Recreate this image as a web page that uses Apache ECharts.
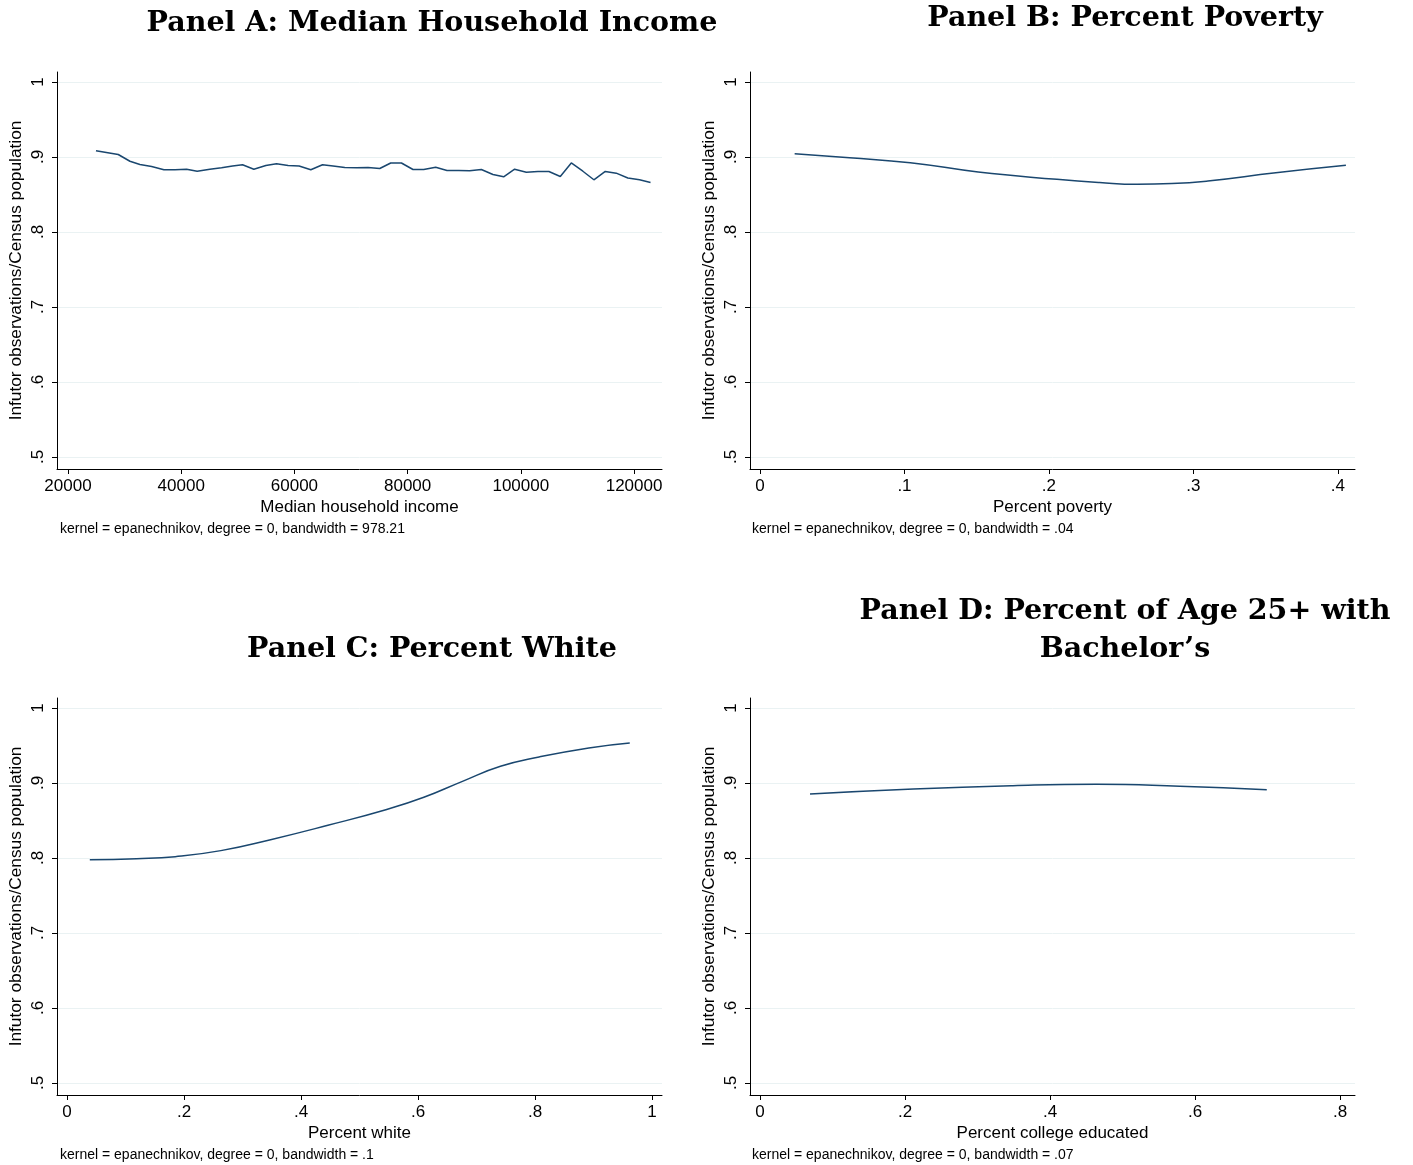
<!DOCTYPE html>
<html><head><meta charset="utf-8">
<script src="https://cdn.jsdelivr.net/npm/echarts@6/dist/echarts.min.js"></script>
<style>html,body{margin:0;padding:0;background:#fff}#c{width:1413px;height:1165px}</style>
</head><body><div id="c"></div>
<script>
// Panel A: median household income (x) vs ratio (y)
const incomeX = [24943,28879,30944,32710,34775,36946,38888,40953,42824,45066,47131,49073,50838,52833,54951,56840,58888,60830,62895,64960,66831,68897,70962,73010,75075,77017,78906,80953,82842,84960,86955,89020,90962,93027,95075,96964,98906,100971,103019,104960,106973,108914,110962,112904,114916,116858,118906,120971,122913];
const incomeY = [0.9084,0.9033,0.8943,0.8900,0.8873,0.8830,0.8830,0.8837,0.8810,0.8837,0.8856,0.8880,0.8897,0.8837,0.8887,0.8910,0.8887,0.8880,0.8830,0.8897,0.8880,0.8860,0.8856,0.8860,0.8847,0.8920,0.8920,0.8833,0.8833,0.8864,0.8820,0.8820,0.8816,0.8833,0.8767,0.8736,0.8837,0.8797,0.8807,0.8807,0.8740,0.8920,0.8810,0.8696,0.8807,0.8784,0.8720,0.8696,0.8660];
// Panel B: percent poverty
const povertyX = [0.024,0.062,0.104,0.151,0.2055,0.235,0.261,0.285,0.310,0.357,0.4055];
const povertyY = [0.9044,0.8990,0.8924,0.8800,0.8702,0.8660,0.8636,0.8645,0.8680,0.8790,0.8889];
// Panel C: percent white
const whiteX = [0.039,0.119,0.185,0.263,0.348,0.446,0.545,0.610,0.676,0.741,0.807,0.892,0.962];
const whiteY = [0.7978,0.7991,0.8018,0.8098,0.8244,0.8436,0.8644,0.8809,0.9022,0.9222,0.9347,0.9467,0.9533];
// Panel D: percent college educated
const collegeX = [0.069,0.2115,0.349,0.464,0.579,0.699];
const collegeY = [0.8853,0.8920,0.8964,0.8982,0.8956,0.8910];

const yTicks = [0.5,0.6,0.7,0.8,0.9,1];
const xTicksA = [20000,40000,60000,80000,100000,120000];
const xTicksB = [0,0.1,0.2,0.3,0.4];
const xTicksC = [0,0.2,0.4,0.6,0.8,1];
const xTicksD = [0,0.2,0.4,0.6,0.8];

const titles = ['Panel A: Median Household Income','Panel B: Percent Poverty','Panel C: Percent White','Panel D: Percent of Age 25+ with\nBachelor\u2019s'];
const xNames = ['Median household income','Percent poverty','Percent white','Percent college educated'];
const yName = 'Infutor observations/Census population';
const notes = ['kernel = epanechnikov, degree = 0, bandwidth = 978.21','kernel = epanechnikov, degree = 0, bandwidth = .04','kernel = epanechnikov, degree = 0, bandwidth = .1','kernel = epanechnikov, degree = 0, bandwidth = .07'];

const fmt = v => { if (v === 0) return '0'; if (Math.abs(v) < 1) return String(+v.toFixed(4)).replace(/^0/,''); return String(v); };
const SANS = 'Liberation Sans, Arial, sans-serif';
const SERIF = 'DejaVu Serif, serif';
const LINE = '#1a476f';
const GRIDC = '#eaf2f3';

const grids = [
  {left:57, top:72, width:605, height:397},
  {left:750, top:72, width:605, height:397},
  {left:57, top:698, width:605, height:397},
  {left:750, top:698, width:605, height:397}
];
const xRanges = [[18058,124940],[-0.0069,0.4118],[-0.0171,1.0171],[-0.0138,0.8207]];
const xTicks = [xTicksA,xTicksB,xTicksC,xTicksD];
const yMin = 0.484, yMax = 1.0133;
const smoothing = [false, 0.5, 0.5, 0.5];

const xAxis = [], yAxis = [], series = [];
const dataX = [incomeX,povertyX,whiteX,collegeX];
const dataY = [incomeY,povertyY,whiteY,collegeY];
for (let i=0;i<4;i++){
  xAxis.push({type:'value', gridIndex:i, min:xRanges[i][0], max:xRanges[i][1],
    name:xNames[i], nameLocation:'middle', nameGap:30,
    nameTextStyle:{fontFamily:SANS,fontSize:17,color:'#000'},
    axisLine:{show:true,onZero:false,lineStyle:{color:'#000',width:1}},
    axisTick:{show:true,length:5,lineStyle:{color:'#000'},customValues:xTicks[i]},
    axisLabel:{fontFamily:SANS,fontSize:17,color:'#000',margin:9,formatter:fmt,customValues:xTicks[i],showMinLabel:true,showMaxLabel:true},
    splitLine:{show:false}});
  yAxis.push({type:'value', gridIndex:i, min:yMin, max:yMax,
    name:yName, nameLocation:'middle', nameGap:32, nameRotate:90,
    nameTextStyle:{fontFamily:SANS,fontSize:17.3,color:'#000'},
    axisLine:{show:true,onZero:false,lineStyle:{color:'#000',width:1}},
    axisTick:{show:true,length:5,lineStyle:{color:'#000'},customValues:yTicks},
    axisLabel:{fontFamily:SANS,fontSize:17,color:'#000',margin:10,rotate:90,formatter:fmt,customValues:yTicks},
    splitLine:{show:true,lineStyle:{color:GRIDC,width:1}}});
  series.push({type:'line', xAxisIndex:i, yAxisIndex:i, showSymbol:false, symbol:'none',
    smooth:smoothing[i],
    lineStyle:{color:LINE,width:1.5}, data:dataX[i].map((x,k)=>[x,dataY[i][k]])});
}

const TF = 'bold 28.5px '+SERIF;
const NF = '14px '+SANS;
const graphic = [
  {type:'text', x:432, y:24, style:{text:titles[0], font:TF, fill:'#000', align:'center', verticalAlign:'middle'}},
  {type:'text', x:1125, y:19, style:{text:titles[1], font:TF, fill:'#000', align:'center', verticalAlign:'middle'}},
  {type:'text', x:432, y:650, style:{text:titles[2], font:TF, fill:'#000', align:'center', verticalAlign:'middle'}},
  {type:'text', x:1125, y:631, style:{text:titles[3], font:TF, fill:'#000', align:'center', verticalAlign:'middle', lineHeight:38}},
  {type:'text', x:60, y:529, style:{text:notes[0], font:NF, fill:'#000', align:'left', verticalAlign:'middle'}},
  {type:'text', x:752, y:529, style:{text:notes[1], font:NF, fill:'#000', align:'left', verticalAlign:'middle'}},
  {type:'text', x:60, y:1155, style:{text:notes[2], font:NF, fill:'#000', align:'left', verticalAlign:'middle'}},
  {type:'text', x:752, y:1155, style:{text:notes[3], font:NF, fill:'#000', align:'left', verticalAlign:'middle'}}
];

const chart = echarts.init(document.getElementById('c'), null, {renderer:'canvas'});
chart.setOption({backgroundColor:'#fff', animation:false, grid:grids, xAxis, yAxis, series, graphic});
</script></body></html>
